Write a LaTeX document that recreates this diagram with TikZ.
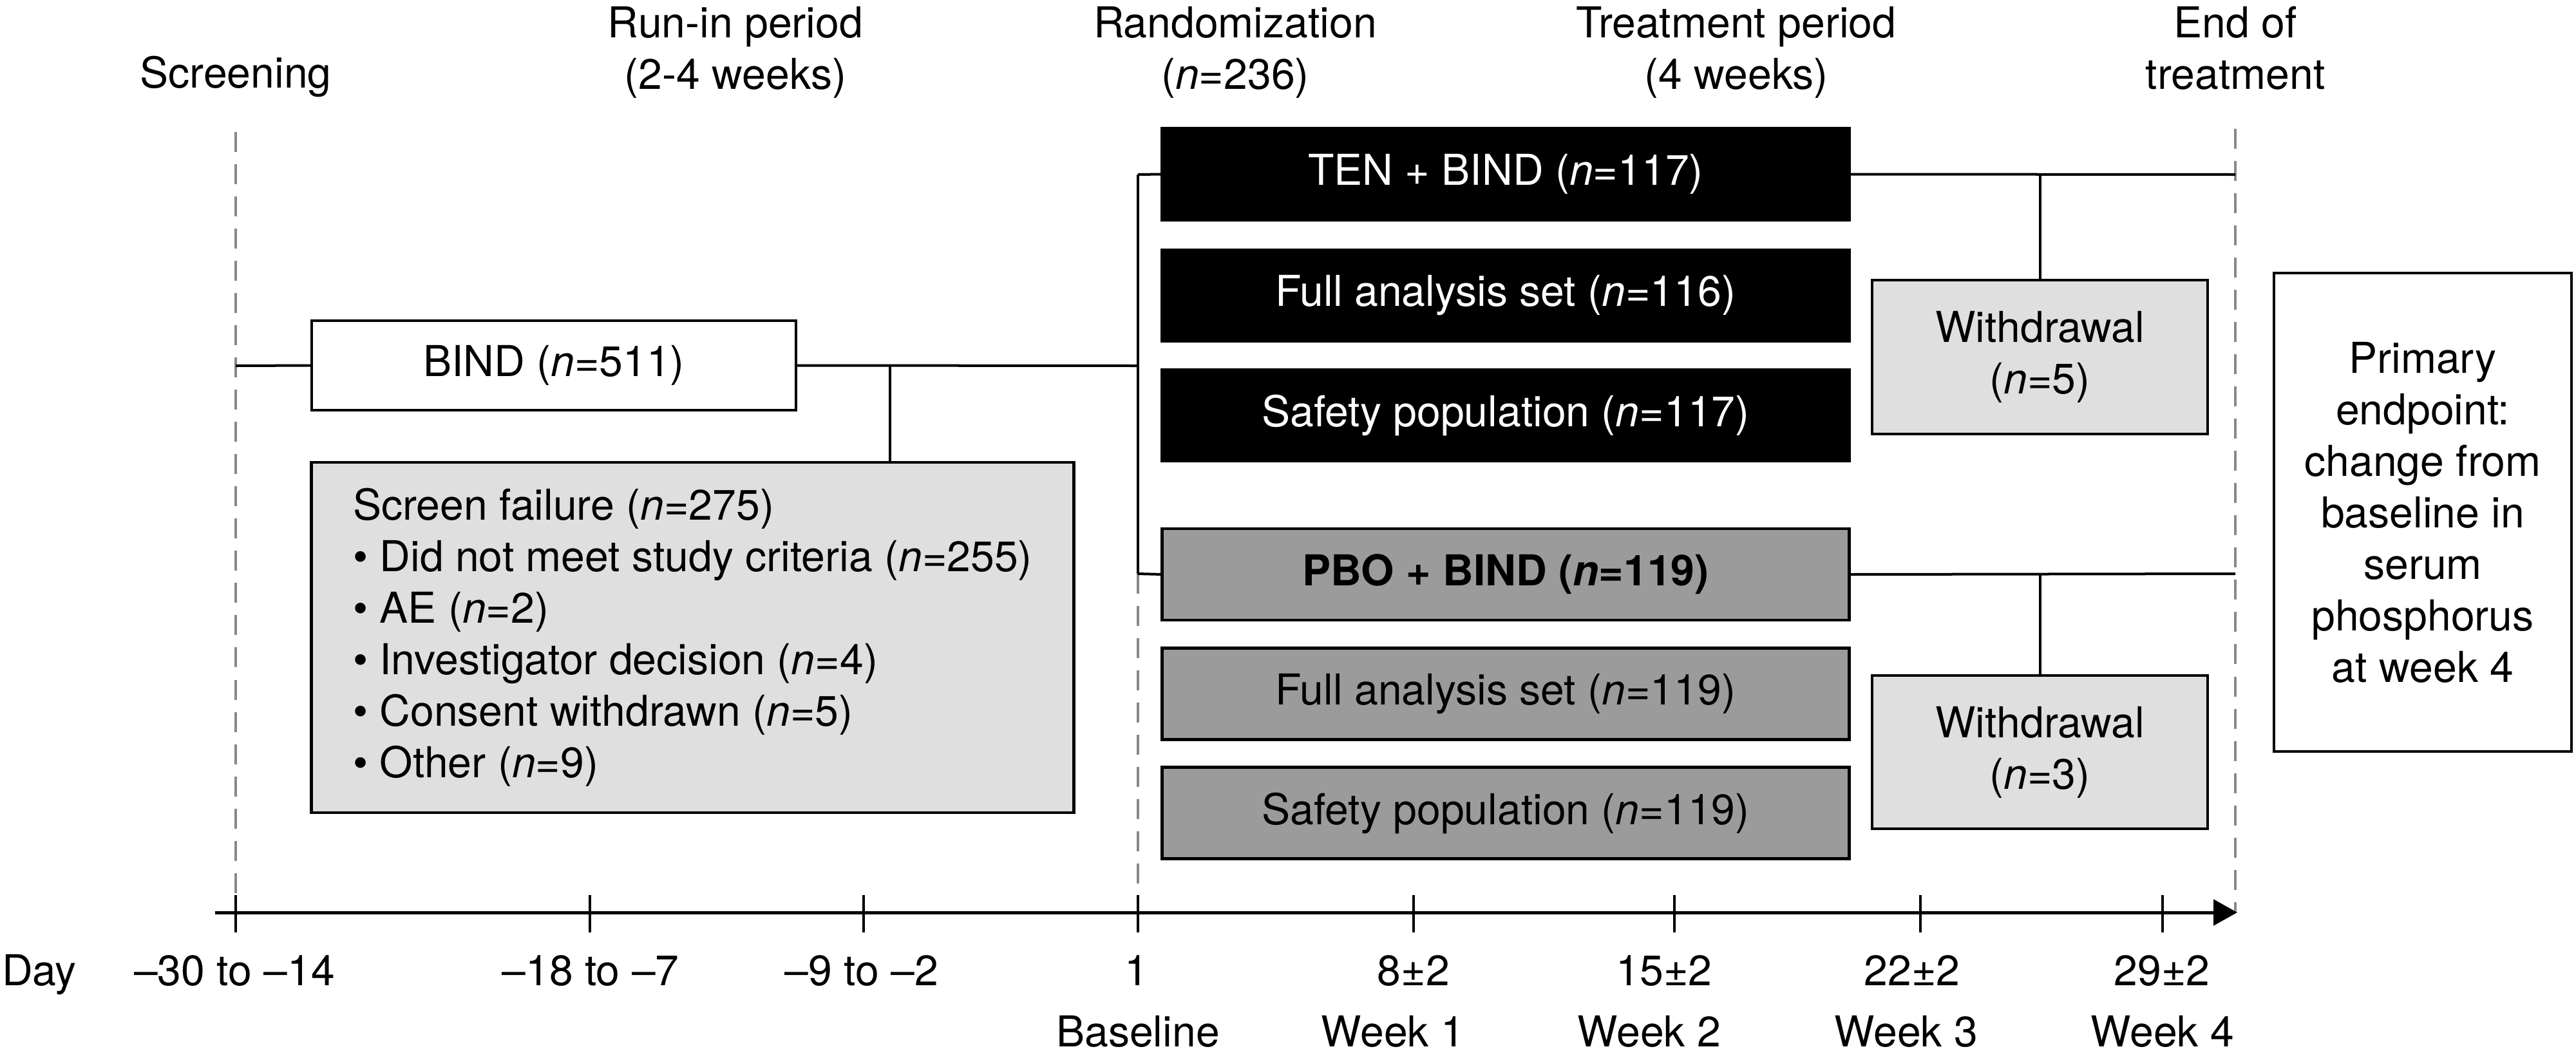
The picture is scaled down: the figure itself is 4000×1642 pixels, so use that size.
\documentclass[tikz,border=0pt]{standalone}
\usepackage{fontspec}
\setmainfont{TeX Gyre Heros}
\usetikzlibrary{arrows.meta}
\definecolor{pbogray}{HTML}{9B9B9B}
\definecolor{wdgray}{HTML}{DFDFDF}
\definecolor{dashgray}{HTML}{888888}
\begin{document}
\begin{tikzpicture}[x=0.01cm,y=-0.01cm,
  every node/.style={font=\fontsize{18.8pt}{22.76pt}\selectfont, inner sep=0pt, outer sep=0pt},
  conn/.style={line width=0.04cm},
  guide/.style={draw=dashgray, line width=0.04cm, dash pattern=on 0.31cm off 0.19cm},
  tickline/.style={line width=0.035cm},
  boxbase/.style={draw=black, line width=0.045cm, rectangle},
  armbox/.style={boxbase, minimum width=10.66cm, minimum height=1.42cm},
  tenbox/.style={armbox, fill=black, text=white},
  pbobox/.style={armbox, fill=pbogray},
  wdbox/.style={boxbase, fill=wdgray},
  plainbox/.style={boxbase, fill=white},
]
\useasboundingbox (0,0) rectangle (4000,1642);

% header labels
\node[anchor=base] (screening) at (366,136) {Screening};
\node[anchor=north, align=center] (runin) at (1142,10.5) {Run-in period\\(2-4 weeks)};
\node[anchor=north, align=center] (random) at (1918,10.5) {Randomization\\(\textit{n}=236)};
\node[anchor=north, align=center] (treat) at (2696,10.5) {Treatment period\\(4 weeks)};
\node[anchor=north, align=center] (eot) at (3471,10.5) {End of\\treatment};

% boxes
\node[plainbox, minimum width=7.52cm, minimum height=1.39cm] (bind) at (860,567.5) {BIND (\textit{n}=511)};
\node[wdbox, minimum width=11.83cm, minimum height=5.44cm, align=left] (sf) at (1075.5,990)
  {Screen failure (\textit{n}=275)\\
   \textbullet{} Did not meet study criteria (\textit{n}=255)\\
   \textbullet{} AE (\textit{n}=2)\\
   \textbullet{} Investigator decision (\textit{n}=4)\\
   \textbullet{} Consent withdrawn (\textit{n}=5)\\
   \textbullet{} Other (\textit{n}=9)};

\node[tenbox] (ten) at (2338,270.5) {TEN + BIND (\textit{n}=117)};
\node[tenbox] (fas1) at (2338,459) {Full analysis set (\textit{n}=116)};
\node[tenbox] (sp1) at (2338,645) {Safety population (\textit{n}=117)};
\node[pbobox] (pbo) at (2338,892) {\textbf{PBO + BIND (\textit{n}=119)}};
\node[pbobox] (fas2) at (2338,1077.5) {Full analysis set (\textit{n}=119)};
\node[pbobox] (sp2) at (2338,1262.5) {Safety population (\textit{n}=119)};

\node[wdbox, minimum width=5.21cm, minimum height=2.39cm, align=center] (wd1) at (3167.5,554.5) {Withdrawal\\(\textit{n}=5)};
\node[wdbox, minimum width=5.21cm, minimum height=2.38cm, align=center] (wd2) at (3167.5,1168) {Withdrawal\\(\textit{n}=3)};
\node[plainbox, minimum width=4.62cm, minimum height=7.43cm, align=center] (pe) at (3762,795.5)
  {Primary\\endpoint:\\change from\\baseline in\\serum\\phosphorus\\at week 4};

% guide coordinates
\coordinate (scrtop) at (366,205);
\coordinate (scrbot) at (366,1417);
\coordinate (scrmid) at (366,568);
\coordinate (randmid) at (1767,568);
\coordinate (randtop) at (1767,271);
\coordinate (randpbo) at (1767,891);
\coordinate (randbot) at (1767,1417);
\coordinate (sfbranch) at (1382,568);
\coordinate (eottop) at (3471,200);
\coordinate (eotbot) at (3471,1417);
\coordinate (tenend) at (3471,271);
\coordinate (pboend) at (3471,891);
\coordinate (tenwd) at (3167.5,271);
\coordinate (pbowd) at (3167.5,891);
\coordinate (axstart) at (334,1417);
\coordinate (axend) at (3474,1417);

% dashed guides
\draw[guide] (scrtop) -- (scrbot);
\draw[guide] (randpbo) -- (randbot);
\draw[guide] (eottop) -- (eotbot);

% connectors
\draw[conn] (scrmid) -- (bind.west);
\draw[conn] (bind.east) -- (randmid);
\draw[conn] (sfbranch) -- (sfbranch |- sf.north);
\draw[conn] (randtop) -- (randpbo);
\draw[conn] (randtop) -- (ten.west);
\draw[conn] (randpbo) -- (pbo.west);
\draw[conn] (ten.east) -- (tenend);
\draw[conn] (pbo.east) -- (pboend);
\draw[conn] (tenwd) -- (wd1.north);
\draw[conn] (pbowd) -- (wd2.north);

% axis
\draw[line width=0.05cm, -{Triangle[length=0.37cm,width=0.40cm]}] (axstart) -- (axend);
\foreach \x/\n in {366/t1,916/t2,1341/t3,1767/t4,2195/t5,2600/t6,2982/t7,3358/t8}{
  \coordinate (\n a) at (\x,1390);
  \coordinate (\n b) at (\x,1448);
  \draw[tickline] (\n a) -- (\n b);
}

% axis labels
\node[anchor=base west] (day) at (3,1530) {Day};
\node[anchor=base] (l1) at (364,1530) {\textendash30 to \textendash14};
\node[anchor=base] (l2) at (917,1530) {\textendash18 to \textendash7};
\node[anchor=base] (l3) at (1338,1530) {\textendash9 to \textendash2};
\node[anchor=base] (l4) at (1765,1530) {1};
\node[anchor=base] (l5) at (2195,1530) {8±2};
\node[anchor=base] (l6) at (2584,1530) {15±2};
\node[anchor=base] (l7) at (2969,1530) {22±2};
\node[anchor=base] (l8) at (3357,1530) {29±2};
\node[anchor=base] (w0) at (1767,1625) {Baseline};
\node[anchor=base] (w1) at (2163,1625) {Week 1};
\node[anchor=base] (w2) at (2561,1625) {Week 2};
\node[anchor=base] (w3) at (2960,1625) {Week 3};
\node[anchor=base] (w4) at (3358,1625) {Week 4};
\end{tikzpicture}
\end{document}
